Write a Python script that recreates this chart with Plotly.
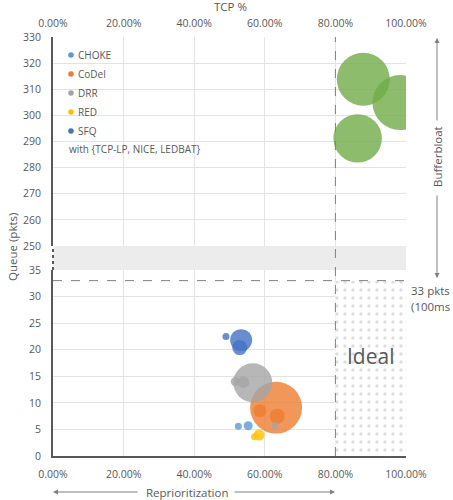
import plotly.graph_objects as go

# ---------------- data ----------------
# x = TCP share (fraction), y = queue (pkts), size = bubble value
choke_x = [0.525, 0.553]
choke_y = [5.6, 5.7]
choke_size = [0.49, 0.81]

codel_x = [0.632, 0.586, 0.635]
codel_y = [9.1, 8.5, 7.5]
codel_size = [27.0, 1.7, 2.25]

drr_x = [0.566, 0.516, 0.539, 0.629]
drr_y = [13.8, 14.0, 13.9, 5.7]
drr_size = [15.2, 0.81, 1.44, 0.49]

red_x = [0.571, 0.584]
red_y = [3.6, 3.95]
red_size = [0.49, 1.21]

sfq_x = [0.533, 0.529, 0.490]
sfq_y = [21.8, 20.4, 22.5]
sfq_size = [4.84, 2.25, 0.49]

base_x = [0.879, 0.983, 0.863]
base_y = [313.8, 304.9, 291.2]
base_size = [28.1, 30.3, 23.5]

series_names = ["CHOKE", "CoDel", "DRR", "RED", "SFQ"]
series_colors = ["#5B9BD5", "#ED7D31", "#A5A5A5", "#FFC000", "#4472C4"]
base_color = "#70AD47"
legend_note = "with {TCP-LP, NICE, LEDBAT}"

x_range = [0, 1]
lower_range = [0, 35]
upper_range = [250, 330]
x_ticks = [0, 0.2, 0.4, 0.6, 0.8, 1.0]
ideal_tcp = 0.80
bufferbloat_pkts = 33

# ---------------- layout geometry ----------------
W, H = 453, 500
ML, MR, MT, MB = 53, 47, 37, 44
PW = W - ML - MR
PH = H - MT - MB


def pyp(p):
    return (H - MB - p) / PH


def pxp(p):
    return (p - ML) / PW


lower_dom = [0, pyp(270)]
upper_dom = [pyp(246), 1]

TXT = "#595959"
GRID = "#e3e3e3"
FONT = "Open Sans"

fig = go.Figure()

# Ideal region (pattern fill)
fig.add_trace(go.Scatter(
    x=[ideal_tcp, x_range[1], x_range[1], ideal_tcp, ideal_tcp],
    y=[0, 0, bufferbloat_pkts, bufferbloat_pkts, 0],
    fill="toself", mode="none", fillcolor="white",
    fillpattern=dict(shape=".", fgcolor="#bdbdbd", bgcolor="white", size=8, solidity=0.15),
    xaxis="x", yaxis="y", hoverinfo="skip", showlegend=False))

SREF = 0.02
data = [(choke_x, choke_y, choke_size), (codel_x, codel_y, codel_size),
        (drr_x, drr_y, drr_size), (red_x, red_y, red_size),
        (sfq_x, sfq_y, sfq_size)]
for (xs, ys, ss), name, col in zip(data, series_names, series_colors):
    fig.add_trace(go.Scatter(
        x=xs, y=ys, mode="markers", name=name,
        marker=dict(size=ss, sizemode="area", sizeref=SREF, color=col,
                    opacity=0.8, line=dict(width=0)),
        xaxis="x", yaxis="y", showlegend=False))

fig.add_trace(go.Scatter(
    x=base_x, y=base_y, mode="markers", name=legend_note,
    marker=dict(size=base_size, sizemode="area", sizeref=SREF, color=base_color,
                opacity=0.8, line=dict(width=0)),
    xaxis="x2", yaxis="y2", showlegend=False))

tickfont = dict(family=FONT, size=10.5, color=TXT)

shapes = [
    dict(type="rect", xref="paper", yref="paper", x0=0, x1=1,
         y0=lower_dom[1], y1=upper_dom[0], fillcolor="#ececec",
         line=dict(width=0), layer="below"),
    dict(type="line", xref="paper", yref="paper", x0=0, x1=0,
         y0=lower_dom[1], y1=upper_dom[0],
         line=dict(color=TXT, width=2, dash="dot")),
    dict(type="line", xref="x", yref="y", x0=x_range[0], x1=x_range[1],
         y0=bufferbloat_pkts, y1=bufferbloat_pkts,
         line=dict(color="#7f7f7f", width=1, dash="dash")),
    dict(type="line", xref="x", yref="paper", x0=ideal_tcp, x1=ideal_tcp,
         y0=0, y1=1, line=dict(color="#7f7f7f", width=1, dash="dash")),
]

annotations = []
# legend (manual)
leg_rows = [55, 74, 93, 112, 131]
for yy, name, col in zip(leg_rows, series_names, series_colors):
    r = 2.8
    shapes.append(dict(type="circle", xref="paper", yref="paper",
                       x0=pxp(71 - r), x1=pxp(71 + r), y0=pyp(yy + r), y1=pyp(yy - r),
                       fillcolor=col, line=dict(width=0)))
    annotations.append(dict(xref="paper", yref="paper", x=pxp(76), y=pyp(yy),
                            xanchor="left", yanchor="middle", text=name, showarrow=False,
                            font=dict(family=FONT, size=10, color=TXT)))
annotations.append(dict(xref="paper", yref="paper", x=pxp(67), y=pyp(149),
                        xanchor="left", yanchor="middle", text=legend_note, showarrow=False,
                        font=dict(family=FONT, size=10, color=TXT)))

# Ideal label
annotations.append(dict(xref="x", yref="y", x=(ideal_tcp + x_range[1]) / 2, y=18.8,
                        text="Ideal", showarrow=False,
                        font=dict(family=FONT, size=21, color=TXT)))
# axis titles
annotations.append(dict(xref="paper", yref="paper", x=pxp(12), y=pyp(247),
                        xanchor="center", yanchor="middle",
                        text="Queue (pkts)", textangle=-90, showarrow=False,
                        font=dict(family=FONT, size=11.5, color=TXT)))
annotations.append(dict(xref="paper", yref="paper", x=pxp(230), y=pyp(6.5),
                        xanchor="center", yanchor="middle", text="TCP %", showarrow=False,
                        font=dict(family=FONT, size=11.5, color=TXT)))
annotations.append(dict(xref="paper", yref="paper", x=pxp(187), y=pyp(492),
                        xanchor="center", yanchor="middle", text="Reprioritization",
                        showarrow=False, font=dict(family=FONT, size=11.5, color=TXT)))
# Reprioritization arrows
ARC = "#808080"
annotations.append(dict(xref="paper", yref="paper", x=pxp(53), y=pyp(492), ax=86, ay=0,
                        text="", showarrow=True, arrowhead=2, arrowsize=1, arrowwidth=1,
                        arrowcolor=ARC))
annotations.append(dict(xref="paper", yref="paper", x=pxp(335), y=pyp(492), ax=-102, ay=0,
                        text="", showarrow=True, arrowhead=2, arrowsize=1, arrowwidth=1,
                        arrowcolor=ARC))
# Bufferbloat arrows + label
annotations.append(dict(xref="paper", yref="paper", x=pxp(437), y=pyp(38), ax=0, ay=84,
                        text="", showarrow=True, arrowhead=2, arrowsize=1, arrowwidth=1,
                        arrowcolor=ARC))
annotations.append(dict(xref="paper", yref="paper", x=pxp(437), y=pyp(278), ax=0, ay=-84,
                        text="", showarrow=True, arrowhead=2, arrowsize=1, arrowwidth=1,
                        arrowcolor=ARC))
annotations.append(dict(xref="paper", yref="paper", x=pxp(437), y=pyp(157),
                        xanchor="center", yanchor="middle",
                        text="Bufferbloat", textangle=-90, showarrow=False,
                        font=dict(family=FONT, size=11.5, color=TXT)))
annotations.append(dict(xref="paper", yref="paper", x=pxp(409), y=pyp(290),
                        xanchor="left", yanchor="middle", text=f"{bufferbloat_pkts} pkts",
                        showarrow=False, font=dict(family=FONT, size=11.5, color=TXT)))
annotations.append(dict(xref="paper", yref="paper", x=pxp(409), y=pyp(306),
                        xanchor="left", yanchor="middle", text="(100ms",
                        showarrow=False, font=dict(family=FONT, size=11.5, color=TXT)))

xcommon = dict(range=x_range, tickvals=x_ticks, tickformat=".2%", showgrid=True,
               gridcolor=GRID, gridwidth=1, zeroline=False, tickfont=tickfont,
               ticks="", ticklabelstandoff=7, fixedrange=True)

fig.update_layout(
    width=W, height=H, autosize=False,
    margin=dict(l=ML, r=MR, t=MT, b=MB, pad=0),
    paper_bgcolor="white", plot_bgcolor="white",
    font=dict(family=FONT, color=TXT),
    showlegend=False,
    xaxis=dict(anchor="y", showline=True, linecolor=TXT, linewidth=2, **xcommon),
    xaxis2=dict(anchor="y2", side="top", showline=False, **xcommon),
    yaxis=dict(domain=lower_dom, range=lower_range, dtick=5, showgrid=True,
               gridcolor=GRID, zeroline=False, showline=True, linecolor=TXT,
               linewidth=2, tickfont=tickfont, ticks="", ticklabelstandoff=8),
    yaxis2=dict(domain=upper_dom, range=upper_range, dtick=10, showgrid=True,
                gridcolor=GRID, zeroline=False, showline=True, linecolor=TXT,
                linewidth=2, tickfont=tickfont, ticks="", ticklabelstandoff=8),
    shapes=shapes, annotations=annotations,
)

fig.write_html("out.html")
